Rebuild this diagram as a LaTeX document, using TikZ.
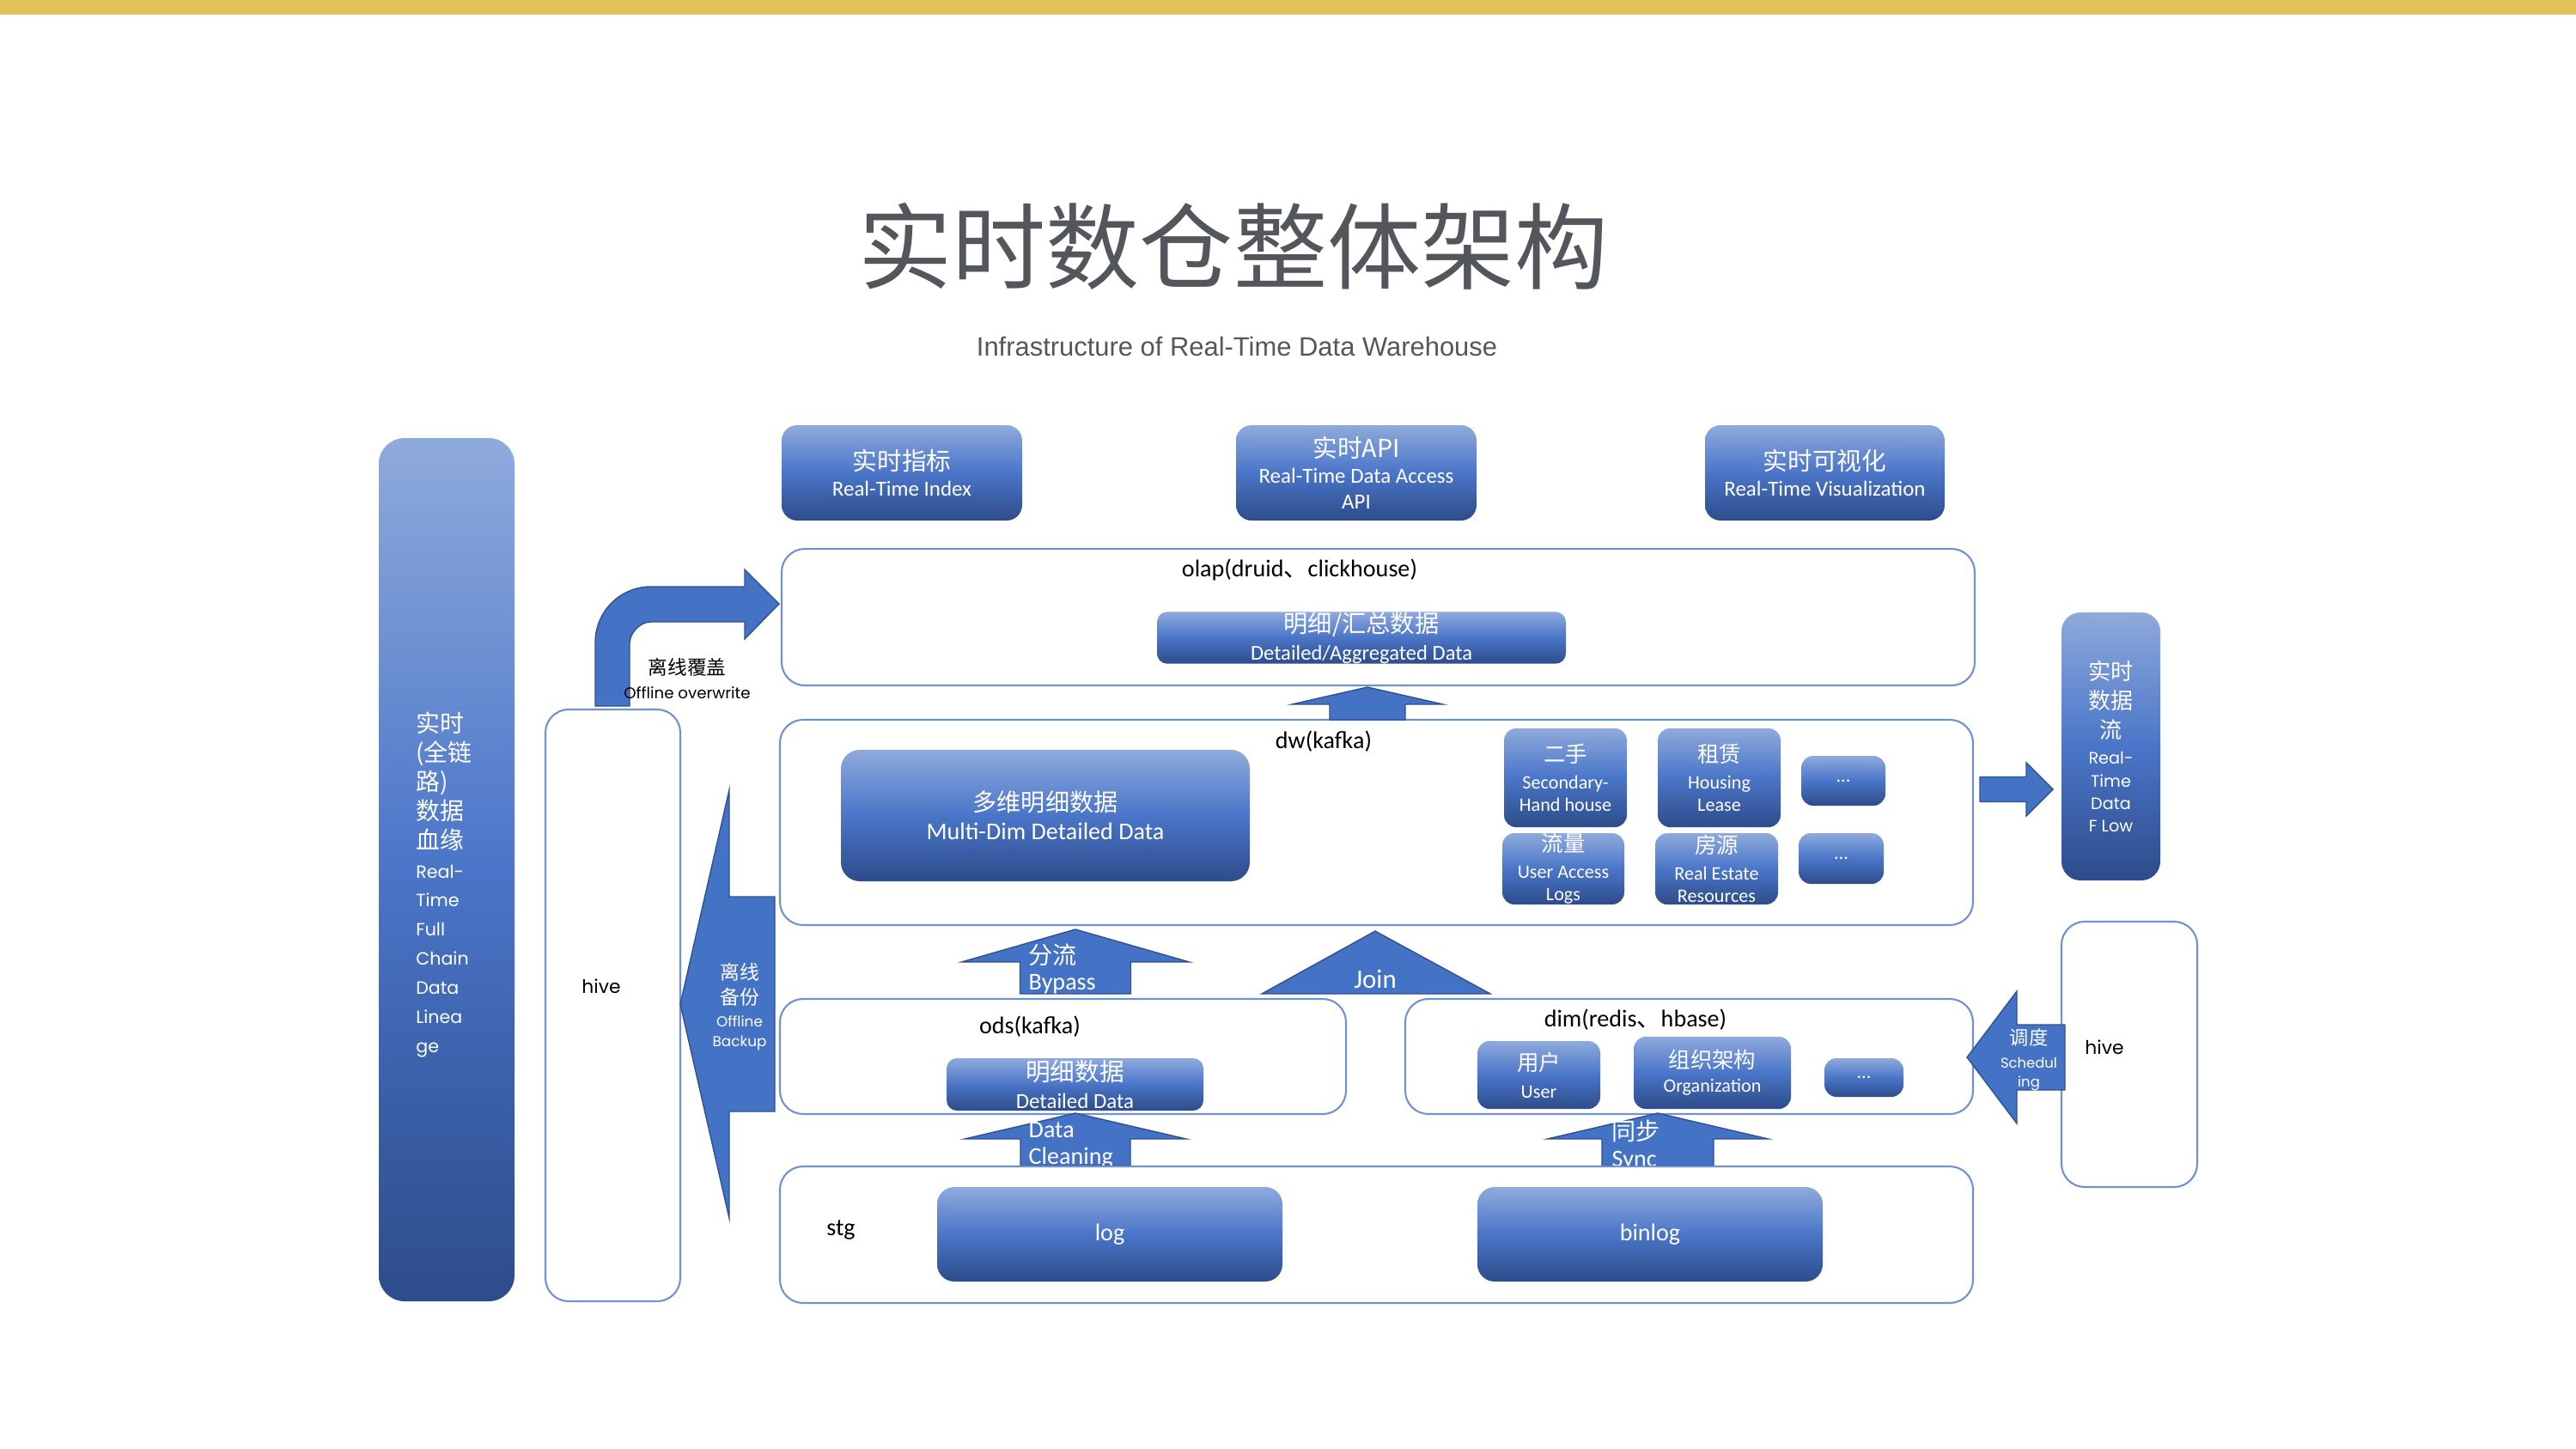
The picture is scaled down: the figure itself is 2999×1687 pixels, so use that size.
\documentclass[tikz,border=0pt]{standalone}
\usepackage{fontspec}
\setmainfont{Carlito}
\newfontfamily\zh[Scale=1.15]{Noto Sans CJK SC}
\newfontfamily\zhn{Noto Sans CJK SC}
\newfontfamily\geo[Scale=0.85]{Poppins}
\newfontfamily\arialf{Liberation Sans}

\definecolor{barYellow}{RGB}{228,192,90}
\definecolor{inkgray}{RGB}{83,87,92}
\definecolor{gtop}{RGB}{143,170,220}
\definecolor{gmid}{RGB}{74,117,200}
\definecolor{gbot}{RGB}{45,76,138}
\definecolor{edge}{RGB}{112,146,210}
\definecolor{arrowfill}{RGB}{68,114,196}
\definecolor{arrowline}{RGB}{47,82,143}

\tikzset{
  layer/.style={draw=edge, line width=0.6pt, fill=white, rounded corners=2.7mm, inner sep=0pt},
  blk/.style={top color=gtop, bottom color=gbot, middle color=gmid, rounded corners=1.8mm,
    text=white, align=center, inner sep=0pt},
  tile/.style={blk, rounded corners=1.4mm, font=\fontsize{6.3}{7.4}\selectfont},
  fat/.style={fill=arrowfill, draw=arrowline, line width=0.4pt},
  lbl/.style={font=\fontsize{8}{9.6}\selectfont, inner sep=0pt}
}

% block arrows: centre, base, tip, half shaft, half head, head length
\newcommand{\fatup}[6]{\filldraw[fat] (#1-#4,#2) -- (#1-#4,#3+#6) -- (#1-#5,#3+#6) -- (#1,#3) -- (#1+#5,#3+#6) -- (#1+#4,#3+#6) -- (#1+#4,#2) -- cycle;}
\newcommand{\fatleft}[6]{\filldraw[fat] (#2,#1-#4) -- (#3+#6,#1-#4) -- (#3+#6,#1-#5) -- (#3,#1) -- (#3+#6,#1+#5) -- (#3+#6,#1+#4) -- (#2,#1+#4) -- cycle;}
\newcommand{\fatright}[6]{\filldraw[fat] (#2,#1-#4) -- (#3-#6,#1-#4) -- (#3-#6,#1-#5) -- (#3,#1) -- (#3-#6,#1+#5) -- (#3-#6,#1+#4) -- (#2,#1+#4) -- cycle;}

\begin{document}
\begin{tikzpicture}[x=0.1mm, y=-0.1mm]
\useasboundingbox (0,0) rectangle (2999,1687);
\fill[barYellow] (0,0) rectangle (2999,17);

% title
\node[text=inkgray, font=\zh\fontsize{27}{30}\selectfont] (title) at (1436,287) {实时数仓整体架构};
\node[text=inkgray, font=\arialf\fontsize{8.8}{10}\selectfont] (subtitle) at (1440,403) {Infrastructure of Real-Time Data Warehouse};

% application layer
\node[blk, minimum width=28mm, minimum height=11.1mm, font=\fontsize{7.1}{8.6}\selectfont] (idx) at (1050,550.5) {{\zh 实时指标}\\Real-Time Index};
\node[blk, minimum width=28mm, minimum height=11.1mm, font=\fontsize{7.1}{8.6}\selectfont] (api) at (1579,550.5) {{\zh 实时API}\\Real-Time Data Access\\API};
\node[blk, minimum width=27.9mm, minimum height=11.1mm, font=\fontsize{7.1}{8.6}\selectfont] (vis) at (2124.5,550.5) {{\zh 实时可视化}\\Real-Time Visualization};

% olap
\node[layer, minimum width=138.9mm, minimum height=15.9mm] (olap) at (1604.5,718.5) {};
\node[lbl] (olaptxt) at (1513,663) {olap(druid{\zhn 、}clickhouse)};
\node[blk, minimum width=47.6mm, minimum height=5.9mm, rounded corners=1.2mm, font=\fontsize{7}{9.2}\selectfont] (agg) at (1585,742.5) {{\zh 明细/汇总数据}\\Detailed/Aggregated Data};

% dw
\node[layer, minimum width=138.9mm, minimum height=23.9mm] (dw) at (1602.5,957.5) {};
\node[lbl] (dwtxt) at (1541,863) {dw(kafka)};
\node[blk, minimum width=47.6mm, minimum height=15.3mm, rounded corners=2.2mm, font=\fontsize{8}{9.4}\selectfont] (multi) at (1217,949.5) {{\zhn 多维明细数据}\\Multi-Dim Detailed Data};
\node[tile, minimum width=14.3mm, minimum height=11.5mm] (second) at (1822.5,905.5) {{\zh 二手}\\[1.5pt]Secondary-\\Hand house};
\node[tile, minimum width=14.3mm, minimum height=11.5mm] (lease) at (2001.5,905.5) {{\zh 租赁}\\[1.5pt]Housing\\Lease};
\node[tile, minimum width=9.8mm, minimum height=5.8mm] (moreA) at (2146,909) {...};
\node[tile, minimum width=14.2mm, minimum height=8.3mm] (traffic) at (1820,1011.5) {{\zh 流量}\\[1.5pt]User Access\\Logs};
\node[tile, minimum width=14.3mm, minimum height=8.3mm] (house) at (1998.5,1011.5) {{\zh 房源}\\[1.5pt]Real Estate\\Resources};
\node[tile, minimum width=9.9mm, minimum height=5.9mm] (moreB) at (2143.5,999.5) {...};

% ods and dim
\node[layer, minimum width=65.9mm, minimum height=13.4mm] (ods) at (1237.5,1230) {};
\node[lbl] (odstxt) at (1199,1195) {ods(kafka)};
\node[blk, minimum width=29.9mm, minimum height=6.1mm, rounded corners=1.2mm, font=\fontsize{7.1}{9.3}\selectfont] (detail) at (1251.5,1262.5) {{\zh 明细数据}\\Detailed Data};
\node[layer, minimum width=66.1mm, minimum height=13.4mm] (dim) at (1966.5,1230) {};
\node[lbl] (dimtxt) at (1904,1187) {dim(redis{\zhn 、}hbase)};
\node[tile, minimum width=14.3mm, minimum height=7.9mm, font=\fontsize{6.3}{9}\selectfont] (user) at (1791.5,1251.5) {{\zh 用户}\\User};
\node[tile, minimum width=18.3mm, minimum height=8.4mm, font=\fontsize{6.3}{8}\selectfont] (org) at (1993.5,1249) {{\zh 组织架构}\\Organization};
\node[tile, minimum width=9.2mm, minimum height=4.5mm] (moreC) at (2170,1254.5) {...};

% arrows between layers
\fatup{1592}{838}{800}{44}{88}{20}
\fatup{1252}{1157}{1082}{64.5}{132.5}{38}
\filldraw[fat] (1469,1157) -- (1601,1084) -- (1735,1157) -- cycle;
\fatup{1252}{1357}{1296}{64}{129}{30}
\fatup{1930}{1357}{1296}{65}{128.5}{30}
\node[font=\fontsize{8}{8.6}\selectfont, text=white, align=left, inner sep=0pt, anchor=west] (bypass) at (1197,1128) {{\zhn 分流}\\Bypass};
\node[font=\fontsize{8.8}{9}\selectfont, text=white, inner sep=0pt] (join) at (1601,1140) {Join};
\node[font=\fontsize{8}{8.8}\selectfont, text=white, align=left, inner sep=0pt, anchor=west] (clean) at (1197,1333) {Data\\Cleaning};
\node[font=\fontsize{8}{8.8}\selectfont, text=white, align=left, inner sep=0pt, anchor=west] (sync) at (1876,1333) {{\zhn 同步}\\Sync};

% stg
\node[layer, minimum width=138.9mm, minimum height=15.9mm] (stg) at (1602.5,1437.5) {};
\node[lbl] (stgtxt) at (979,1432) {stg};
\node[blk, minimum width=40.2mm, minimum height=11mm, rounded corners=2mm, font=\fontsize{8}{9.6}\selectfont] (log) at (1292,1437) {log};
\node[blk, minimum width=40.2mm, minimum height=11mm, rounded corners=2mm, font=\fontsize{8}{9.6}\selectfont] (binlog) at (1921,1437) {binlog};

% lineage bar
\node[blk, minimum width=15.8mm, minimum height=100.5mm, rounded corners=3mm] (lineage) at (520,1012.5) {};
\node[font=\fontsize{6.9}{9.65}\selectfont, text=white, align=left, inner sep=0pt] (lineagetxt) at (517,1030) {{\zh 实时}\\{\zh (全链}\\{\zh 路)}\\{\zh 数据}\\{\zh 血缘}\\{\geo Real-}\\{\geo Time}\\{\geo Full}\\{\geo Chain}\\{\geo Data}\\{\geo Linea}\\{\geo ge}};

% offline hive
\node[layer, minimum width=15.7mm, minimum height=68.9mm] (hiveL) at (713.5,1170.5) {};
\node[font=\fontsize{7.3}{8}\selectfont\geo, inner sep=0pt] (hiveLtxt) at (700,1148) {hive};
\filldraw[fat] (693,822) -- (693,748) .. controls (693,712) and (722,683) .. (758,683) -- (867,683) -- (867,663) -- (907,703) -- (867,744) -- (867,724) -- (758,724) .. controls (744,724) and (733,738) .. (733,749) -- (733,822) -- cycle;
\node[font=\fontsize{5.6}{7.7}\selectfont, align=center, inner sep=0pt] (overwrite) at (800,790) {{\zh 离线覆盖}\\{\geo\fontsize{6.1}{7.7}\selectfont Offline overwrite}};
\fatleft{1169}{902}{792}{125}{249.5}{57}
\node[font=\fontsize{5.65}{6.6}\selectfont, text=white, align=center, inner sep=0pt] (backup) at (861,1172) {{\zh 离线}\\[1.6pt]{\zh 备份}\\[0.8pt]{\geo Offline}\\{\geo Backup}};

% real-time stream
\fatright{919}{2305}{2390}{14.5}{31}{31}
\node[blk, minimum width=11.5mm, minimum height=31.2mm, rounded corners=2.2mm, font=\fontsize{6.45}{7.5}\selectfont] (flow) at (2457.5,869) {{\zh 实时}\\[2.2pt]{\zh 数据}\\[2.2pt]{\zh 流}\\[1.2pt]{\geo Real-}\\{\geo Time}\\{\geo Data}\\{\geo F Low}};

% scheduling hive
\node[layer, minimum width=15.8mm, minimum height=30.9mm] (hiveR) at (2479,1227.5) {};
\node[font=\fontsize{7.3}{8}\selectfont\geo, inner sep=0pt] (hiveRtxt) at (2450,1219) {hive};
\fatleft{1231}{2404}{2290}{38}{77}{58}
\node[font=\fontsize{5.5}{6.3}\selectfont, text=white, align=center, inner sep=0pt] (sched) at (2362,1234) {{\zh 调度}\\[1.4pt]{\geo Schedul}\\{\geo ing}};
\end{tikzpicture}
\end{document}
